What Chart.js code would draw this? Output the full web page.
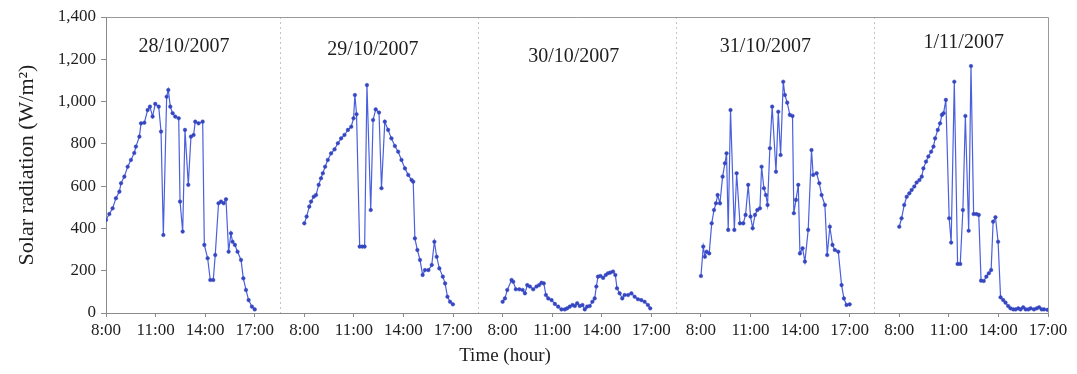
<!DOCTYPE html>
<html>
<head>
<meta charset="utf-8">
<script src="https://cdn.jsdelivr.net/npm/chart.js@4.4.1/dist/chart.umd.min.js"></script>
<style>
  html, body { margin: 0; padding: 0; background: #ffffff; }
  #wrap { width: 1077px; height: 374px; }
</style>
</head>
<body>
<div id="wrap"><canvas id="c" width="1077" height="374"></canvas></div>
<script>
// ---- Data ----
const dayLabels = ['28/10/2007', '29/10/2007', '30/10/2007', '31/10/2007', '1/11/2007'];
const xTickHours = [8, 11, 14, 17];
const xTickLabels = ['8:00', '11:00', '14:00', '17:00'];
const yTicks = [0, 200, 400, 600, 800, 1000, 1200, 1400];

// time of day (decimal hours) and solar radiation (W/m2) for each day
const times0 = [8.00, 8.20, 8.40, 8.60, 8.81, 8.91, 9.11, 9.31, 9.51, 9.71, 9.81, 10.02, 10.12, 10.32, 10.52, 10.66, 10.82, 10.98, 11.19, 11.33, 11.47, 11.67, 11.77, 11.89, 12.03, 12.19, 12.40, 12.48, 12.64, 12.78, 12.98, 13.14, 13.30, 13.40, 13.60, 13.85, 13.95, 14.15, 14.31, 14.49, 14.61, 14.81, 14.96, 15.12, 15.26, 15.42, 15.56, 15.66, 15.80, 15.96, 16.17, 16.31, 16.47, 16.63, 16.83, 17.00];
const vals0  = [440, 468, 495, 543, 574, 614, 645, 692, 724, 757, 787, 834, 897, 900, 960, 976, 929, 989, 976, 858, 369, 1023, 1055, 976, 945, 929, 921, 527, 385, 866, 606, 834, 842, 905, 897, 905, 322, 259, 156, 156, 274, 519, 527, 519, 538, 290, 377, 337, 322, 290, 251, 164, 109, 61, 30, 17];

const times1 = [8.00, 8.14, 8.30, 8.41, 8.57, 8.71, 8.87, 9.01, 9.12, 9.26, 9.42, 9.62, 9.83, 10.03, 10.23, 10.43, 10.64, 10.84, 10.98, 11.06, 11.16, 11.35, 11.51, 11.65, 11.79, 12.02, 12.16, 12.32, 12.52, 12.67, 12.87, 13.07, 13.27, 13.48, 13.68, 13.88, 14.09, 14.29, 14.49, 14.59, 14.69, 14.84, 15.00, 15.16, 15.30, 15.51, 15.71, 15.87, 16.01, 16.17, 16.38, 16.52, 16.66, 16.82, 16.99];
const vals1  = [424, 456, 503, 527, 550, 558, 606, 637, 661, 692, 724, 755, 774, 803, 826, 842, 866, 881, 921, 1031, 940, 314, 314, 314, 1078, 487, 913, 963, 948, 590, 905, 866, 826, 790, 763, 724, 684, 653, 629, 621, 353, 298, 251, 180, 203, 203, 227, 337, 266, 211, 172, 140, 77, 53, 41];

const times2 = [8.00, 8.14, 8.28, 8.54, 8.64, 8.80, 9.01, 9.21, 9.35, 9.49, 9.65, 9.85, 10.05, 10.21, 10.35, 10.49, 10.62, 10.76, 10.96, 11.16, 11.36, 11.56, 11.76, 11.90, 12.06, 12.23, 12.37, 12.51, 12.67, 12.83, 12.97, 13.11, 13.27, 13.43, 13.57, 13.67, 13.77, 13.92, 14.08, 14.24, 14.38, 14.52, 14.68, 14.82, 14.92, 15.08, 15.24, 15.38, 15.59, 15.79, 15.99, 16.19, 16.39, 16.59, 16.79, 16.93];
const vals2  = [53, 69, 109, 156, 148, 112, 112, 109, 93, 132, 125, 112, 125, 132, 143, 140, 85, 69, 61, 43, 30, 17, 17, 22, 30, 38, 33, 46, 33, 38, 17, 30, 33, 53, 69, 125, 172, 175, 166, 180, 188, 191, 196, 180, 117, 93, 69, 85, 85, 93, 77, 65, 61, 53, 38, 22];

const times3 = [8.00, 8.14, 8.24, 8.34, 8.50, 8.65, 8.79, 8.91, 9.01, 9.15, 9.31, 9.45, 9.55, 9.65, 9.79, 10.02, 10.16, 10.36, 10.56, 10.70, 10.86, 11.00, 11.13, 11.27, 11.41, 11.57, 11.67, 11.81, 11.93, 12.03, 12.17, 12.31, 12.54, 12.68, 12.82, 12.98, 13.08, 13.22, 13.38, 13.54, 13.62, 13.75, 13.89, 13.99, 14.15, 14.29, 14.49, 14.69, 14.79, 15.00, 15.16, 15.30, 15.50, 15.64, 15.80, 15.96, 16.10, 16.31, 16.51, 16.65, 16.81, 17.00];
const vals3  = [175, 314, 266, 290, 282, 424, 487, 519, 558, 519, 645, 708, 755, 393, 960, 393, 661, 424, 424, 464, 606, 456, 401, 464, 487, 495, 692, 590, 558, 511, 779, 976, 668, 952, 747, 1094, 1031, 995, 937, 932, 472, 535, 606, 282, 306, 243, 393, 771, 653, 661, 614, 558, 511, 274, 408, 322, 298, 290, 132, 69, 38, 41];

const times4 = [8.00, 8.14, 8.30, 8.45, 8.61, 8.75, 8.91, 9.05, 9.22, 9.36, 9.46, 9.62, 9.76, 9.93, 10.07, 10.17, 10.33, 10.47, 10.58, 10.68, 10.82, 11.02, 11.14, 11.33, 11.53, 11.69, 11.85, 12.00, 12.20, 12.34, 12.50, 12.67, 12.81, 12.95, 13.11, 13.27, 13.42, 13.56, 13.68, 13.82, 13.98, 14.13, 14.29, 14.43, 14.59, 14.73, 14.90, 15.04, 15.20, 15.34, 15.50, 15.65, 15.81, 15.95, 16.15, 16.32, 16.46, 16.62, 16.76, 16.97];
const vals4  = [408, 448, 511, 550, 566, 582, 598, 617, 629, 645, 684, 716, 740, 763, 787, 826, 866, 897, 937, 945, 1008, 448, 333, 1094, 232, 232, 487, 932, 389, 1168, 468, 468, 464, 153, 151, 172, 188, 203, 432, 453, 337, 74, 61, 49, 33, 22, 17, 17, 22, 17, 27, 17, 17, 22, 17, 22, 27, 17, 17, 15];

const dayTimes = [times0, times1, times2, times3, times4];
const dayValues = [vals0, vals1, vals2, vals3, vals4];

// Each day occupies 12 hours of the continuous axis: 8:00 .. 17:00 plus a 3 h gap
const HOURS_PER_DAY = 12;
const START_HOUR = 8;
const toAxis = (d, h) => d * HOURS_PER_DAY + (h - START_HOUR);

// label anchor positions (hour of day, value) and separators
const labelHours = [12.72, 12.15, 12.30, 11.90, 11.90];
const labelValues = [1258, 1244, 1211, 1258, 1277];
const separatorHours = [18.5, 18.5, 18.5, 18.5]; // between consecutive days

const FONT = "'Liberation Serif', 'DejaVu Serif', serif";
const LINE = '#4b60de';
const POINT = '#3546c0';

const datasets = dayValues.map((vals, d) => ({
  label: dayLabels[d],
  data: vals.map((v, i) => ({ x: toAxis(d, dayTimes[d][i]), y: v })),
  borderColor: LINE,
  backgroundColor: POINT,
  pointBackgroundColor: POINT,
  pointBorderColor: POINT,
  pointRadius: 1.8,
  pointBorderWidth: 0.5,
  borderWidth: 1.2,
  tension: 0,
  fill: false
}));

const xTickValues = [];
for (let d = 0; d < dayLabels.length; d++) {
  xTickHours.forEach(h => xTickValues.push(toAxis(d, h)));
}

const decorPlugin = {
  id: 'decor',
  beforeDatasetsDraw(chart) {
    const { ctx, chartArea: a, scales: { x } } = chart;
    ctx.save();
    // dashed day separators
    ctx.strokeStyle = '#c4c4c4';
    ctx.lineWidth = 1;
    ctx.setLineDash([2, 3]);
    separatorHours.forEach((h, i) => {
      const px = Math.round(x.getPixelForValue(toAxis(i, h))) + 0.5;
      ctx.beginPath();
      ctx.moveTo(px, a.top);
      ctx.lineTo(px, a.bottom);
      ctx.stroke();
    });
    ctx.setLineDash([]);
    // top and right frame
    ctx.strokeStyle = '#9a9a9a';
    ctx.beginPath();
    ctx.moveTo(Math.round(a.left) + 0.5, Math.round(a.top) + 0.5);
    ctx.lineTo(Math.round(a.right) + 0.5, Math.round(a.top) + 0.5);
    ctx.lineTo(Math.round(a.right) + 0.5, Math.round(a.bottom) + 0.5);
    ctx.stroke();
    ctx.restore();
  },
  afterDraw(chart) {
    const { ctx, scales: { x, y } } = chart;
    ctx.save();
    ctx.fillStyle = '#1e1e1e';
    ctx.textAlign = 'center';
    ctx.textBaseline = 'middle';
    ctx.font = "20px " + FONT;
    dayLabels.forEach((t, d) => {
      ctx.fillText(t, x.getPixelForValue(toAxis(d, labelHours[d])), y.getPixelForValue(labelValues[d]));
    });
    // x axis title
    ctx.font = "19px " + FONT;
    ctx.fillText('Time (hour)', 505, 356);
    ctx.restore();
  }
};

new Chart(document.getElementById('c'), {
  type: 'line',
  data: { datasets },
  plugins: [decorPlugin],
  options: {
    responsive: false,
    animation: false,
    devicePixelRatio: 1,
    layout: { padding: { left: 0, right: 29, top: 17, bottom: 0 } },
    plugins: { legend: { display: false }, tooltip: { enabled: false } },
    scales: {
      x: {
        type: 'linear',
        min: 0,
        max: toAxis(dayLabels.length - 1, 17),
        afterFit(s) { s.height = 61; },
        afterBuildTicks(s) { s.ticks = xTickValues.map(v => ({ value: v })); },
        ticks: {
          autoSkip: false,
          maxRotation: 0,
          padding: 3,
          color: '#1e1e1e',
          font: { family: FONT, size: 17 },
          callback: (v, i) => xTickLabels[i % xTickLabels.length]
        },
        grid: { drawOnChartArea: false, tickLength: 4, color: '#8a8a8a' },
        border: { color: '#8a8a8a', width: 1 }
      },
      y: {
        min: 0,
        max: 1400,
        afterFit(s) { s.width = 106; },
        afterBuildTicks(s) { s.ticks = yTicks.map(v => ({ value: v })); },
        ticks: {
          padding: 5,
          color: '#1e1e1e',
          font: { family: FONT, size: 17 },
          callback: v => v.toLocaleString('en-US')
        },
        grid: { drawOnChartArea: false, tickLength: 5, color: '#8a8a8a' },
        border: { color: '#8a8a8a', width: 1 },
        title: {
          display: true,
          text: 'Solar radiation (W/m²)',
          color: '#1e1e1e',
          font: { family: FONT, size: 22 },
          padding: { top: 14, bottom: 0 }
        }
      }
    }
  }
});
</script>
</body>
</html>
